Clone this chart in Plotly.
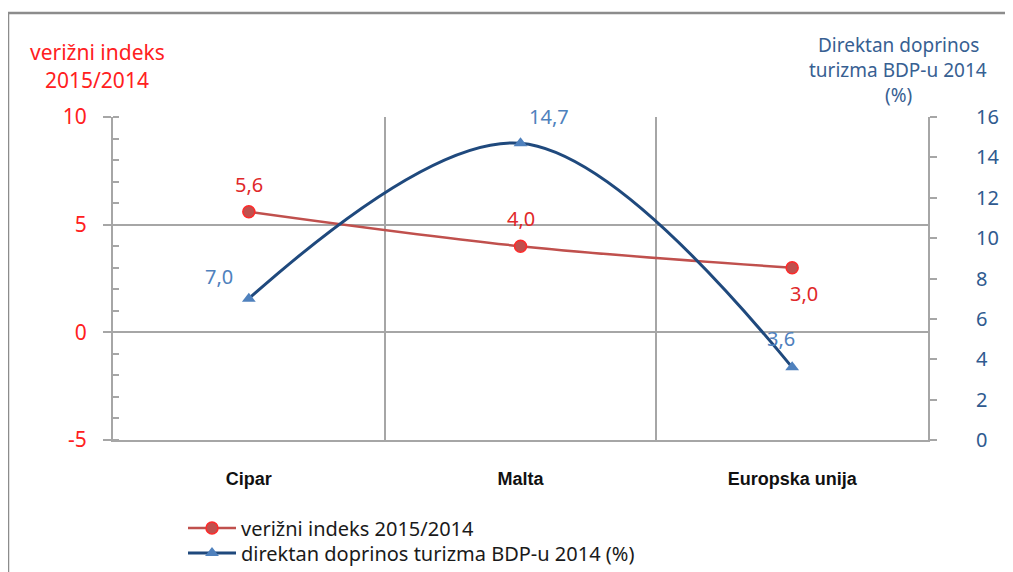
import plotly.graph_objects as go

categories = ["Cipar", "Malta", "Europska unija"]
index_values = [5.6, 4.0, 3.0]
contrib_values = [7.0, 14.7, 3.6]
series_names = ["verižni indeks 2015/2014", "direktan doprinos turizma BDP-u 2014 (%)"]
left_title = ["verižni indeks", "2015/2014"]
right_title = ["Direktan doprinos", "turizma BDP-u 2014", "(%)"]
left_ticks = [-5, 0, 5, 10]
left_ticktext = ["-5", "0", "5", "10"]

OFF = 8  # page body margin
W, H = 1013 - OFF, 572 - OFF
L, T = 113 - OFF, 117 - OFF
pw, ph = 815, 323
R, B = W - L - pw, H - T - ph

def px_x(p):
    return (p - OFF - L) / pw

def px_y(p):
    return (T + ph - (p - OFF)) / ph

def fmt(v):
    return f"{v:.1f}".replace(".", ",")

RED_LINE = "#C0504D"
RED_TXT = "#E0282A"
BLUE_LINE = "#1F497D"
BLUE_MK = "#4F81BD"
GRID = "#A6A6A6"

fig = go.Figure()
fig.add_trace(go.Scatter(
    x=categories, y=index_values, name=series_names[0], mode="lines+markers",
    line=dict(color=RED_LINE, width=2.5, shape="spline", smoothing=1),
    marker=dict(symbol="circle", size=12, color=RED_LINE, line=dict(color="#FF2A2A", width=1.5)),
    yaxis="y", legend="legend",
))
fig.add_trace(go.Scatter(
    x=categories, y=contrib_values, name=series_names[1], mode="lines+markers",
    line=dict(color=BLUE_LINE, width=3, shape="spline", smoothing=1),
    marker=dict(symbol="triangle-up", size=12, color=BLUE_MK),
    yaxis="y2", legend="legend2",
))

annotations = []
red_shifts = [(0, 27), (0, 28), (12, -26)]
blue_shifts = [(-30, 22), (28, 27), (-11, 29)]
for c, v, (dx, dy) in zip(categories, index_values, red_shifts):
    annotations.append(dict(x=c, y=v, xref="x", yref="y", text=fmt(v), showarrow=False,
                            xshift=dx, yshift=dy, font=dict(size=20, color=RED_TXT, family="Noto Sans")))
for c, v, (dx, dy) in zip(categories, contrib_values, blue_shifts):
    annotations.append(dict(x=c, y=v, xref="x", yref="y2", text=fmt(v), showarrow=False,
                            xshift=dx, yshift=dy, font=dict(size=20, color=BLUE_MK, family="Noto Sans")))

for i, t in enumerate(left_title):
    annotations.append(dict(x=px_x(97), y=px_y(52 + 28 * i), xref="paper", yref="paper", text=t,
                            showarrow=False, xanchor="center", yanchor="middle",
                            font=dict(size=21, color="#FF2020", family="Noto Sans")))
for i, t in enumerate(right_title):
    annotations.append(dict(x=px_x(898), y=px_y(45 + 25 * i), xref="paper", yref="paper", text=t,
                            showarrow=False, xanchor="center", yanchor="middle",
                            font=dict(size=19, color="#376092", family="Noto Sans")))

legend_style = dict(xanchor="left", yanchor="middle",
                    font=dict(size=20, color="#1a1a1a", family="Noto Sans"),
                    tracegroupgap=0, itemwidth=48, bgcolor="rgba(0,0,0,0)", borderwidth=0)

fig.update_layout(
    width=W, height=H,
    margin=dict(l=L, r=R, t=T, b=B, autoexpand=False),
    paper_bgcolor="white", plot_bgcolor="white",
    showlegend=True,
    legend=dict(x=px_x(183), y=px_y(528), **legend_style),
    legend2=dict(x=px_x(183), y=px_y(553), **legend_style),
    xaxis=dict(
        type="category", range=[-0.5, 2.5], tickson="boundaries",
        showgrid=True, gridcolor=GRID, gridwidth=1.5,
        showline=True, linecolor=GRID, linewidth=2,
        ticks="", ticklabelstandoff=21,
        tickfont=dict(size=18, color="#111", family="Liberation Sans"),
        tickprefix="<b>", ticksuffix="</b>",
        zeroline=False,
    ),
    yaxis=dict(
        range=[-5, 10], tickvals=left_ticks, ticktext=left_ticktext,
        showgrid=True, gridcolor=GRID, gridwidth=1.5,
        showline=True, linecolor=GRID, linewidth=2,
        ticks="outside", ticklen=8, tickcolor=GRID, tickwidth=1.5,
        minor=dict(dtick=1, tick0=0, ticks="inside", ticklen=6, tickcolor=GRID, showgrid=False),
        tickfont=dict(size=21, color="#FF2020", family="Noto Sans"),
        ticklabelstandoff=12,
        zeroline=False,
    ),
    yaxis2=dict(
        range=[0, 16], dtick=2, overlaying="y", side="right",
        showgrid=False, showline=True, linecolor=GRID, linewidth=2,
        ticks="outside", ticklen=7, tickcolor=GRID, tickwidth=1.5,
        tickfont=dict(size=20, color="#2F5A8F", family="Noto Sans"),
        ticklabelstandoff=35,
        zeroline=False,
    ),
    annotations=annotations,
    shapes=[dict(type="rect", xref="paper", yref="paper",
                 x0=px_x(8), x1=px_x(1040), y0=px_y(620), y1=px_y(13),
                 line=dict(color="#8C8C8C", width=2.5), fillcolor="rgba(0,0,0,0)", layer="below")],
)

fig.write_html("out.html")
